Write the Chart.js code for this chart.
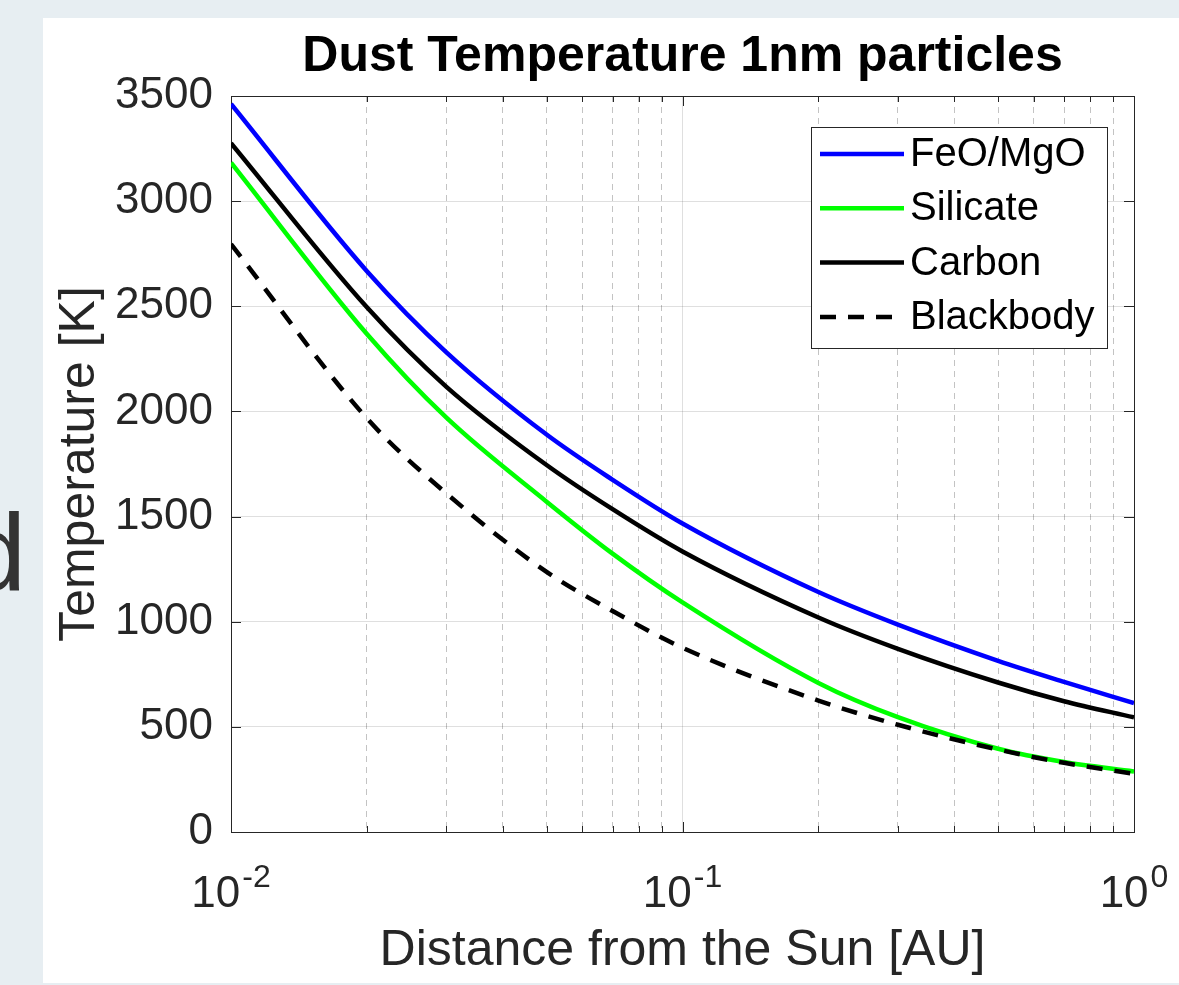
<!DOCTYPE html>
<html>
<head>
<meta charset="utf-8">
<script src="https://cdn.jsdelivr.net/npm/chart.js@4.4.1/dist/chart.umd.min.js"></script>
<style>
  html, body { margin: 0; padding: 0; }
  body {
    width: 1179px; height: 985px; position: relative; overflow: hidden;
    background: #e7eef2;
    font-family: "Liberation Sans", Arial, sans-serif;
  }
  #panel { position: absolute; left: 43px; top: 18px; width: 1136px; height: 965px; background: #fff; }
  #cut { position: absolute; left: -35px; top: 497px; font-size: 110px; line-height: 1; color: #333; }
</style>
</head>
<body>
<div id="cut">d</div>
<div id="panel"><canvas id="chart" width="1136" height="965"></canvas></div>
<script>
const FONT = '"Liberation Sans", Arial, Helvetica, sans-serif';
const AXIS_COLOR = '#262626';

// Distance from the Sun [AU]
const distance  = [0.01, 0.02, 0.03, 0.05, 0.07, 0.1, 0.2, 0.3, 0.5, 0.7, 1.0];
// Temperature [K] for each material
const feoMgo    = [3462, 2667, 2281, 1890, 1675, 1467, 1141, 986, 814, 714, 613];
const silicate  = [3183, 2368, 1970, 1571, 1324, 1092, 709, 546, 396, 333, 288];
const carbon    = [3276, 2495, 2117, 1745, 1535, 1334, 1020, 871, 711, 622, 545];
const blackbody = [2796, 1967, 1610, 1237, 1051, 876, 625, 510, 392, 329, 277];

// tick values on the log axis
const xTicks = [0.01, 0.02, 0.03, 0.04, 0.05, 0.06, 0.07, 0.08, 0.09,
                0.1, 0.2, 0.3, 0.4, 0.5, 0.6, 0.7, 0.8, 0.9, 1];

const isDecade = v => Math.abs(Math.log10(v) - Math.round(Math.log10(v))) < 1e-6;
const points = arr => distance.map((d, i) => ({x: d, y: arr[i]}));

// box round the plot + inward tick marks, like matlab
const frame = {
    id: 'frame',
    beforeDatasetsDraw(chart) {
        const {ctx, chartArea: a, scales: {x, y}} = chart;
        ctx.save();
        ctx.strokeStyle = AXIS_COLOR;
        ctx.lineWidth = 1;
        ctx.beginPath();
        y.ticks.forEach(t => {
            const py = Math.round(y.getPixelForValue(t.value)) + 0.5;
            ctx.moveTo(a.left, py); ctx.lineTo(a.left + 10, py);
            ctx.moveTo(a.right, py); ctx.lineTo(a.right - 10, py);
        });
        x.ticks.forEach(t => {
            const px = Math.round(x.getPixelForValue(t.value)) + 0.5;
            const len = isDecade(t.value) ? 10 : 6;
            ctx.moveTo(px, a.bottom); ctx.lineTo(px, a.bottom - len);
            ctx.moveTo(px, a.top); ctx.lineTo(px, a.top + len);
        });
        ctx.stroke();
        ctx.strokeRect(Math.round(a.left) + 0.5, Math.round(a.top) + 0.5,
                       Math.round(a.right - a.left), Math.round(a.bottom - a.top));
        ctx.restore();
    }
};

// 10^n labels under the x axis
const decadeLabels = {
    id: 'decadeLabels',
    afterDraw(chart) {
        const {ctx, chartArea: a, scales: {x}} = chart;
        ctx.save();
        ctx.fillStyle = AXIS_COLOR;
        ctx.textAlign = 'left';
        ctx.textBaseline = 'alphabetic';
        x.ticks.filter(t => isDecade(t.value)).forEach(t => {
            const px = x.getPixelForValue(t.value);
            const exp = String(Math.round(Math.log10(t.value)));
            ctx.font = '44px ' + FONT;
            const w1 = ctx.measureText('10').width;
            ctx.font = '32px ' + FONT;
            const w2 = ctx.measureText(exp).width;
            const start = px - (w1 + w2 + 2) / 2;
            const base = a.bottom + 75;
            ctx.font = '44px ' + FONT;
            ctx.fillText('10', start, base);
            ctx.font = '32px ' + FONT;
            ctx.fillText(exp, start + w1 + 2, base - 20);
        });
        ctx.restore();
    }
};

// legend box in the upper right of the plot
const boxLegend = {
    id: 'boxLegend',
    afterDraw(chart) {
        const {ctx, chartArea: a} = chart;
        const w = 296, h = 221;
        const left = Math.round(a.right - 27 - w), top = Math.round(a.top + 31);
        ctx.save();
        ctx.fillStyle = '#fff';
        ctx.fillRect(left, top, w, h);
        ctx.strokeStyle = AXIS_COLOR;
        ctx.lineWidth = 1;
        ctx.strokeRect(left + 0.5, top + 0.5, w, h);
        ctx.font = '40px ' + FONT;
        ctx.textBaseline = 'middle';
        ctx.textAlign = 'left';
        chart.data.datasets.forEach((ds, i) => {
            const yy = top + 27 + i * 54.3;
            ctx.strokeStyle = ds.borderColor;
            ctx.lineWidth = ds.borderWidth;
            ctx.setLineDash(ds.borderDash || []);
            ctx.beginPath();
            ctx.moveTo(left + 9, yy);
            ctx.lineTo(left + 93, yy);
            ctx.stroke();
            ctx.setLineDash([]);
            ctx.fillStyle = '#000';
            ctx.fillText(ds.label, left + 99, yy + 1);
        });
        ctx.restore();
    }
};

function line(label, arr, color, dash, order) {
    return {
        label: label,
        data: points(arr),
        borderColor: color,
        backgroundColor: color,
        borderWidth: 4.5,
        borderDash: dash,
        borderCapStyle: 'butt',
        pointRadius: 0,
        cubicInterpolationMode: 'monotone',
        order: order
    };
}

new Chart(document.getElementById('chart'), {
    type: 'line',
    plugins: [frame, decadeLabels, boxLegend],
    data: {
        datasets: [
            line('FeO/MgO', feoMgo, '#0000ff', [], 1),
            line('Silicate', silicate, '#00ff00', [], 1),
            line('Carbon', carbon, '#000000', [], 1),
            line('Blackbody', blackbody, '#000000', [16, 12], 0)
        ]
    },
    options: {
        responsive: false,
        animation: false,
        devicePixelRatio: 1,
        layout: {padding: {left: 0, right: 45, top: 0, bottom: 0}},
        plugins: {
            legend: {display: false},
            tooltip: {enabled: false},
            title: {
                display: true,
                fullSize: false,
                text: 'Dust Temperature 1nm particles',
                color: '#000',
                font: {family: FONT, size: 50, weight: 'bold'},
                padding: {top: 9, bottom: 9}
            }
        },
        scales: {
            x: {
                type: 'logarithmic',
                min: 0.01,
                max: 1,
                afterBuildTicks: axis => {
                    axis.ticks = xTicks.map(v => ({value: v, major: isDecade(v)}));
                },
                afterFit: axis => { axis.height = 151; },
                ticks: {display: false, autoSkip: false},
                grid: {
                    drawTicks: false,
                    color: c => (c.tick && !isDecade(c.tick.value)) ? 'rgba(38,38,38,0.28)' : 'rgba(38,38,38,0.15)'
                },
                border: {
                    display: false,
                    dash: c => (c.tick && !isDecade(c.tick.value)) ? [6, 5] : []
                },
                title: {
                    display: true,
                    text: 'Distance from the Sun [AU]',
                    color: AXIS_COLOR,
                    font: {family: FONT, size: 50},
                    padding: {top: 0, bottom: 2}
                }
            },
            y: {
                min: 0,
                max: 3500,
                afterFit: axis => { axis.width = 188; },
                ticks: {
                    stepSize: 500,
                    color: AXIS_COLOR,
                    padding: 18,
                    font: {family: FONT, size: 44},
                    callback: v => String(v)
                },
                grid: {drawTicks: false, color: 'rgba(38,38,38,0.15)'},
                border: {display: false},
                title: {
                    display: true,
                    text: 'Temperature [K]',
                    color: AXIS_COLOR,
                    font: {family: FONT, size: 50},
                    padding: {top: 7, bottom: 0}
                }
            }
        }
    }
});
</script>
</body>
</html>
